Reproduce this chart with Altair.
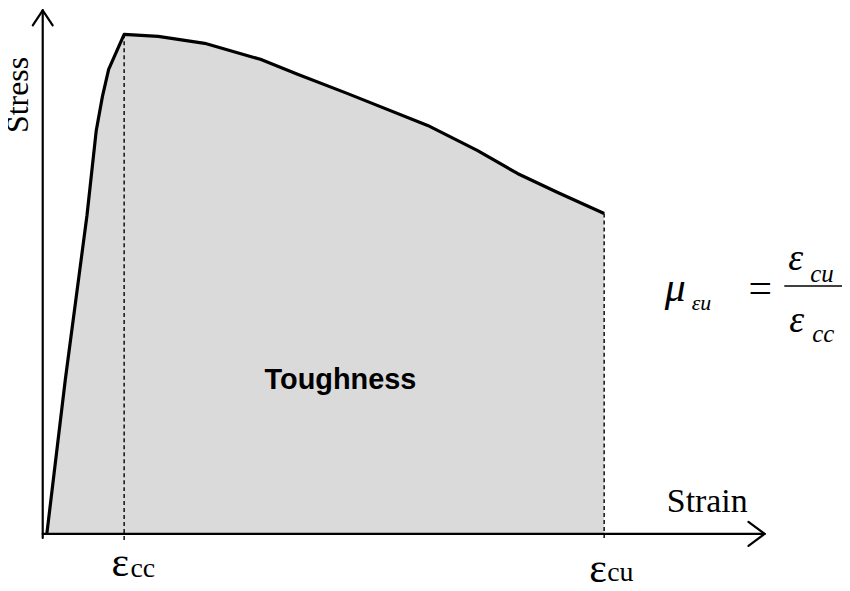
import altair as alt
import pandas as pd

# ---- data (strain in mm/mm, stress in MPa) ----
strain = [0, 0.0006, 0.0013, 0.0016, 0.0018, 0.0020, 0.0025, 0.0036, 0.0051,
          0.0069, 0.0081, 0.0097, 0.0123, 0.0139, 0.0152, 0.0165, 0.0180]
stress = [0, 15.5, 31.9, 40.4, 43.8, 46.5, 50.0, 49.8, 49.1,
          47.5, 46.0, 44.1, 40.9, 38.4, 36.1, 34.2, 32.1]
eps_cc = 0.0025
eps_cu = 0.0180
peak_stress = 50.0
ult_stress = 32.1

# ---- layout ----
W, H = 838, 575
X_LO, X_HI = -0.00125, 0.02568
Y_LO, Y_HI = -4.67, 52.49
xs = alt.Scale(domain=[X_LO, X_HI], nice=False, zero=False)
ys = alt.Scale(domain=[Y_LO, Y_HI], nice=False, zero=False)

curve = pd.DataFrame({"strain": strain, "stress": stress, "base": [0.0] * len(strain)})

area = alt.Chart(curve).mark_area(color="#dadada", opacity=1).encode(
    x=alt.X("strain:Q", scale=xs, axis=None),
    y=alt.Y("stress:Q", scale=ys, axis=None, stack=None),
    y2="base:Q",
)

line = alt.Chart(curve).mark_line(color="black", strokeWidth=3.2, strokeJoin="round").encode(
    x=alt.X("strain:Q", scale=xs, axis=None),
    y=alt.Y("stress:Q", scale=ys, axis=None),
)

dash_df = pd.DataFrame({"strain": [eps_cc, eps_cu], "top": [peak_stress, ult_stress],
                        "bot": [-0.5, -0.5]})
dashes = alt.Chart(dash_df).mark_rule(color="black", strokeWidth=1.4, strokeDash=[4, 3]).encode(
    x=alt.X("strain:Q", scale=xs, axis=None),
    y=alt.Y("top:Q", scale=ys, axis=None),
    y2="bot:Q",
)

# axis lines and arrow heads (data units)
ax_x = -0.000129
ax_y = 0.1
x_tip = 0.02318
y_tip = 52.39
axes_df = pd.DataFrame({
    "x1": [ax_x, ax_x, ax_x, ax_x, x_tip, x_tip],
    "y1": [-0.3, y_tip, y_tip, ax_y, ax_y, ax_y],
    "x2": [ax_x, -0.00045, 0.000193, x_tip, 0.02266, 0.02266],
    "y2": [y_tip, 50.89, 50.89, ax_y, 1.29, -1.09],
})
axes = alt.Chart(axes_df).mark_rule(color="black", strokeWidth=2.2, strokeCap="round").encode(
    x=alt.X("x1:Q", scale=xs, axis=None),
    y=alt.Y("y1:Q", scale=ys, axis=None),
    x2="x2:Q",
    y2="y2:Q",
)


def txt(label, x, y, size, font="Liberation Serif", align="left", baseline="alphabetic",
        angle=0, weight="normal", style="normal"):
    return alt.Chart(pd.DataFrame({"label": [label]})).mark_text(
        font=font, fontSize=size, align=align, baseline=baseline, angle=angle,
        fontWeight=weight, fontStyle=style, color="black",
    ).encode(x=alt.value(x), y=alt.value(y), text="label:N")


texts = [
    txt("Stress", 20, 86, 32, align="center", angle=270),
    txt("Strain", 662, 505, 34),
    txt("ε", 104, 569, 42),
    txt("cc", 123, 570, 28),
    txt("ε", 584, 575, 42),
    txt("cu", 602, 574, 28),
    txt("Toughness", 334, 381, 29, font="Liberation Sans", align="center", weight="bold"),
    txt("μ", 660, 293, 42, style="italic"),
    txt("εu", 687, 302, 22, style="italic"),
    txt("=", 744, 294, 42),
    txt("ε", 784, 262, 38, style="italic"),
    txt("cu", 806, 274, 25, style="italic"),
    txt("ε", 785, 324, 38, style="italic"),
    txt("cc", 808, 334, 25, style="italic"),
]

bar = alt.Chart(pd.DataFrame({"a": [0]})).mark_rule(color="black", strokeWidth=1.6).encode(
    x=alt.value(780), x2=alt.value(839), y=alt.value(278))

chart = alt.layer(area, line, dashes, axes, bar, *texts).properties(
    width=W, height=H, autosize=alt.AutoSizeParams(type="none"), padding=0,
    background="white",
).configure_view(stroke=None)

chart.save("out.html", embed_options={"renderer": "svg", "actions": False})
